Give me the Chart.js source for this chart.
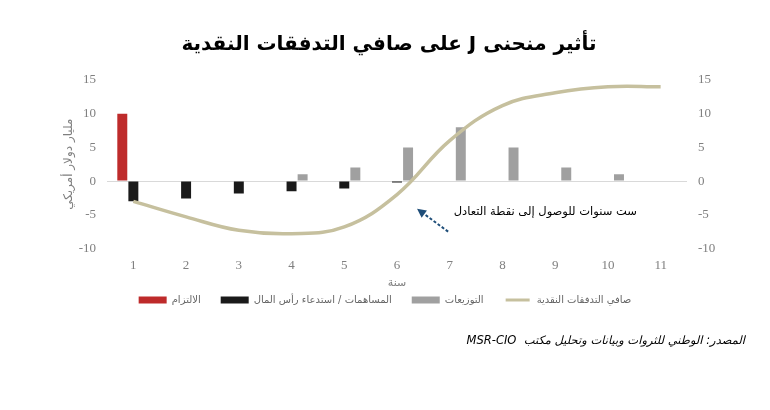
<!DOCTYPE html>
<html>
<head>
<meta charset="utf-8">
<script src="https://cdn.jsdelivr.net/npm/chart.js@4.4.1/dist/chart.umd.min.js"></script>
<style>
  html,body{margin:0;padding:0;background:#fff;}
  #wrap{width:770px;height:410px;position:relative;}
</style>
</head>
<body>
<div id="wrap"><canvas id="jcurve"></canvas></div>
<script>
// data
const years=['1','2','3','4','5','6','7','8','9','10','11'];
const commitment=[10,null,null,null,null,null,null,null,null,null,null];
const contributions=[-3,-2.6,-1.85,-1.5,-1.1,-0.2,null,null,null,null,null];
const distributions=[null,null,null,1,2,5,8,5,2,1,null];
const netCashFlow=[-3,-5.3,-7.3,-7.8,-6.8,-2,6,11.2,13.1,14,14];
const seriesNames=['الالتزام','المساهمات / استدعاء رأس المال','التوزيعات','صافي التدفقات النقدية'];
const yRange={min:-10,max:15,step:5};

const titleText='تأثير منحنى J على صافي التدفقات النقدية';
const yTitle='مليار دولار أمريكي';
const xTitle='سنة';
const noteText='ست سنوات للوصول إلى نقطة التعادل';
const sourceText='المصدر: الوطني للثروات وبيانات وتحليل مكتب  MSR-CIO';

const serif="'Liberation Serif','DejaVu Sans',serif";
const sans="'DejaVu Sans',sans-serif";
const tickGrey='#7f7f7f';

// title (rtl), annotation arrow + note, source line
const notes={
  id:'notes',
  afterDraw(chart){
    const {ctx,scales:{x,y}}=chart;
    ctx.save();
    ctx.direction='rtl';
    ctx.textAlign='center';
    ctx.textBaseline='middle';
    ctx.fillStyle='#000';
    ctx.font="bold 20px "+sans;
    ctx.fillText(titleText,389,45);

    const x0=x.getPixelForValue(5.97), y0=y.getPixelForValue(-7.5);
    const x1=x.getPixelForValue(5.38), y1=y.getPixelForValue(-4.1);
    const ang=Math.atan2(y1-y0,x1-x0);
    const head=9;
    const bx=x1-head*Math.cos(ang), by=y1-head*Math.sin(ang);
    ctx.strokeStyle='#1f4e79';
    ctx.fillStyle='#1f4e79';
    ctx.lineWidth=2;
    ctx.setLineDash([3,2]);
    ctx.beginPath();
    ctx.moveTo(x0,y0);
    ctx.lineTo(bx,by);
    ctx.stroke();
    ctx.setLineDash([]);
    ctx.beginPath();
    ctx.moveTo(x1,y1);
    ctx.lineTo(bx+4.5*Math.sin(ang),by-4.5*Math.cos(ang));
    ctx.lineTo(bx-4.5*Math.sin(ang),by+4.5*Math.cos(ang));
    ctx.closePath();
    ctx.fill();

    ctx.fillStyle='#000';
    ctx.font="11.5px "+sans;
    ctx.textAlign='right';
    ctx.fillText(noteText,x.getPixelForValue(9.55),y.getPixelForValue(-4.6));

    ctx.font="italic 11.5px "+sans;
    ctx.fillText(sourceText,chart.width-25,341);
    ctx.restore();
  }
};

const ctx=document.getElementById('jcurve').getContext('2d');
new Chart(ctx,{
  data:{
    labels:years,
    datasets:[
      {type:'bar',label:seriesNames[0],data:commitment,backgroundColor:'#be2b2b',order:1},
      {type:'bar',label:seriesNames[1],data:contributions,backgroundColor:'#1a1a1a',order:1},
      {type:'bar',label:seriesNames[2],data:distributions,backgroundColor:'#a0a0a0',order:1},
      {type:'line',label:seriesNames[3],data:netCashFlow,borderColor:'#c6c09e',backgroundColor:'#c6c09e',
       borderWidth:3.5,pointRadius:0,tension:0.4,order:0}
    ]
  },
  options:{
    responsive:true,
    maintainAspectRatio:false,
    animation:false,
    datasets:{bar:{categoryPercentage:0.63,barPercentage:0.9}},
    layout:{padding:{top:80,bottom:95,left:0,right:0}},
    plugins:{
      legend:{
        position:'bottom',
        labels:{
          font:{family:sans,size:10},color:'#666',boxWidth:28,boxHeight:7,padding:20,
          sort:(a,b)=>a.datasetIndex-b.datasetIndex,
          generateLabels(chart){
            const items=Chart.defaults.plugins.legend.labels.generateLabels(chart);
            items.forEach(it=>{
              const ds=chart.data.datasets[it.datasetIndex];
              it.fillStyle=ds.backgroundColor;
              if(ds.type==='line'){it.strokeStyle='#fff';it.lineWidth=4;}
              else{it.strokeStyle=ds.backgroundColor;it.lineWidth=0;}
            });
            return items;
          }
        }
      },
      tooltip:{enabled:false}
    },
    scales:{
      x:{
        grid:{display:false},border:{display:false},
        ticks:{font:{family:serif,size:13},color:tickGrey,padding:1},
        title:{display:true,text:xTitle,font:{family:sans,size:11},color:tickGrey,padding:{top:0,bottom:-15}},
        afterFit(s){s.height=26.5;}
      },
      y:{
        position:'left',min:yRange.min,max:yRange.max,
        ticks:{stepSize:yRange.step,font:{family:serif,size:13},color:tickGrey,padding:11},
        grid:{drawTicks:false,lineWidth:1,color:c=>c.tick&&c.tick.value===0?'#d9d9d9':'rgba(0,0,0,0)'},
        border:{display:false},
        title:{display:true,text:yTitle,font:{family:sans,size:12},color:tickGrey,padding:{top:62,bottom:0}},
        afterFit(s){s.width=107;}
      },
      y2:{
        position:'right',min:yRange.min,max:yRange.max,
        ticks:{stepSize:yRange.step,font:{family:serif,size:13},color:tickGrey,padding:11},
        grid:{display:false,drawTicks:false},border:{display:false},
        afterFit(s){s.width=83;}
      }
    }
  },
  plugins:[notes]
});
</script>
</body>
</html>
